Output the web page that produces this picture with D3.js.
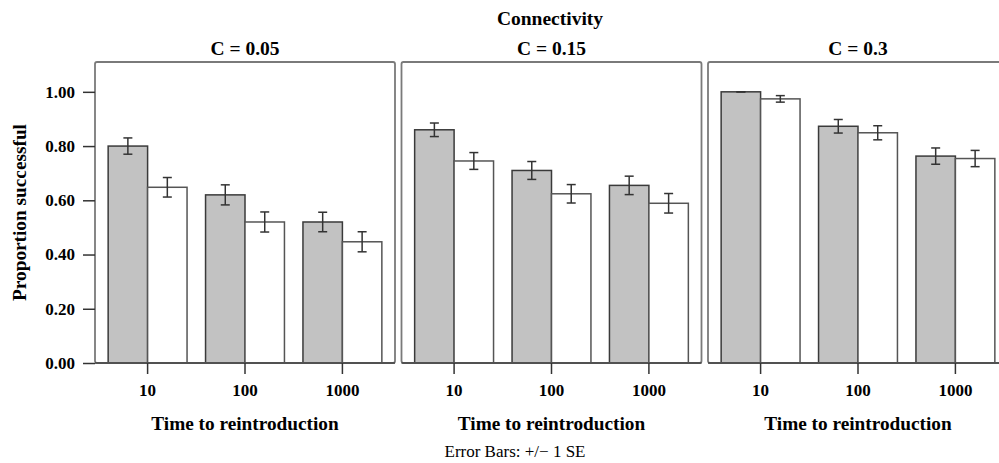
<!DOCTYPE html>
<html>
<head>
<meta charset="utf-8">
<script src="https://cdn.jsdelivr.net/npm/d3@7"></script>
<style>
	body { margin: 0; background: #fff; }
	svg { display: block; font-family: "Liberation Serif", "Times New Roman", serif; }
</style>
</head>
<body>
<svg width="999" height="463"></svg>
<script>
// Panels (connectivity) and categories (time to reintroduction)
const panels = ["C = 0.05", "C = 0.15", "C = 0.3"];
const times = ["10", "100", "1000"];

// Grey bars, one row per panel
const greyValues = [
	[0.8, 0.62, 0.52],
	[0.86, 0.71, 0.655],
	[1.0, 0.873, 0.763]
];
const greyErrors = [
	[0.03, 0.037, 0.036],
	[0.025, 0.033, 0.034],
	[0, 0.025, 0.03]
];

// White bars
const whiteValues = [
	[0.648, 0.52, 0.447],
	[0.745, 0.624, 0.589],
	[0.974, 0.849, 0.754]
];
const whiteErrors = [
	[0.036, 0.037, 0.037],
	[0.031, 0.034, 0.036],
	[0.012, 0.026, 0.03]
];

const yTicks = [0, 0.2, 0.4, 0.6, 0.8, 1.0];

function drawChart() {
	const svg = d3.select("svg");

	const top = 62,
		bottom = 363;

	const panelScale = d3
			.scaleBand()
			.domain(panels)
			.range([95, 1008])
			.paddingInner(0.0212),
		yScale = d3.scaleLinear().domain([0, 1.11]).range([bottom, top]);

	const pw = panelScale.bandwidth();

	const xScale = d3
			.scaleBand()
			.domain(times)
			.range([0, pw])
			.paddingInner(0.19)
			.paddingOuter(0.135),
		subScale = d3
			.scaleBand()
			.domain(["grey", "white"])
			.range([0, xScale.bandwidth()]);

	// Top title
	svg.append("text")
		.attr("x", 550)
		.attr("y", 25)
		.attr("text-anchor", "middle")
		.style("font-weight", "bold")
		.style("font-size", "19.5px")
		.text("Connectivity");

	panels.forEach((p, pi) => {
		const g = svg.append("g").attr("transform", `translate(${panelScale(p)}, 0)`);

		const rows = times.map((t, i) => [
			{ t: t, s: "grey", v: greyValues[pi][i], e: greyErrors[pi][i] },
			{ t: t, s: "white", v: whiteValues[pi][i], e: whiteErrors[pi][i] }
		]).flat();

		// panel title
		g.append("text")
			.attr("x", pw / 2)
			.attr("y", 55)
			.attr("text-anchor", "middle")
			.style("font-weight", "bold")
			.style("font-size", "19.5px")
			.text(p);

		// bars
		g.selectAll(".bar")
			.data(rows)
			.enter()
			.append("rect")
			.attr("class", "bar")
			.attr("x", (d) => xScale(d.t) + subScale(d.s))
			.attr("y", (d) => yScale(d.v))
			.attr("width", subScale.bandwidth())
			.attr("height", (d) => bottom - yScale(d.v))
			.attr("fill", (d) => (d.s == "grey" ? "#c2c2c2" : "#fff"))
			.attr("stroke", (d) => (d.s == "grey" ? "#3a3a3a" : "#555"))
			.attr("stroke-width", 1.5);

		// error bars
		const eb = g.selectAll(".err")
			.data(rows)
			.enter()
			.append("g")
			.attr("class", "err")
			.attr("stroke", "#333")
			.attr("stroke-width", 1.5);
		const cx = (d) => xScale(d.t) + subScale(d.s) + subScale.bandwidth() / 2;
		eb.append("line")
			.attr("x1", cx)
			.attr("x2", cx)
			.attr("y1", (d) => yScale(d.v + d.e))
			.attr("y2", (d) => yScale(d.v - d.e));
		eb.append("line")
			.attr("x1", (d) => cx(d) - 4.5)
			.attr("x2", (d) => cx(d) + 4.5)
			.attr("y1", (d) => yScale(d.v + d.e))
			.attr("y2", (d) => yScale(d.v + d.e));
		eb.append("line")
			.attr("x1", (d) => cx(d) - 4.5)
			.attr("x2", (d) => cx(d) + 4.5)
			.attr("y1", (d) => yScale(d.v - d.e))
			.attr("y2", (d) => yScale(d.v - d.e));

		// panel frame
		g.append("rect")
			.attr("x", 0)
			.attr("y", top)
			.attr("width", pw)
			.attr("height", bottom - top)
			.attr("rx", 2)
			.attr("fill", "none")
			.attr("stroke", "#7a7a7a")
			.attr("stroke-width", 1.8);
		g.append("line")
			.attr("x1", 0)
			.attr("x2", pw)
			.attr("y1", bottom)
			.attr("y2", bottom)
			.attr("stroke", "#444")
			.attr("stroke-width", 1.5);

		// x axis
		const xAxis = g.append("g")
			.attr("transform", `translate(0, ${bottom})`)
			.call(d3.axisBottom(xScale).tickSize(11).tickPadding(10));
		xAxis.select(".domain").remove();
		xAxis.selectAll("line").attr("stroke", "#333").attr("stroke-width", 1.5);
		xAxis.selectAll("text")
			.style("font-family", "Liberation Serif, serif")
			.style("font-weight", "bold")
			.style("font-size", "17px")
			.attr("fill", "#000");

		g.append("text")
			.attr("x", pw / 2)
			.attr("y", 430)
			.attr("text-anchor", "middle")
			.style("font-weight", "bold")
			.style("font-size", "19.3px")
			.text("Time to reintroduction");

		if (pi == 0) {
			const yAxis = g.append("g")
				.call(d3.axisLeft(yScale).tickValues(yTicks).tickFormat(d3.format(".2f")).tickSize(12).tickPadding(8));
			yAxis.select(".domain").remove();
			yAxis.selectAll("line").attr("stroke", "#333").attr("stroke-width", 1.5);
			yAxis.selectAll("text")
				.style("font-family", "Liberation Serif, serif")
				.style("font-weight", "bold")
				.style("font-size", "17px")
				.attr("fill", "#000");
		}
	});

	// y axis title
	svg.append("text")
		.attr("transform", `translate(26, ${(top + bottom) / 2}) rotate(-90)`)
		.attr("text-anchor", "middle")
		.style("font-weight", "bold")
		.style("font-size", "19.3px")
		.text("Proportion successful");

	svg.append("text")
		.attr("x", 515)
		.attr("y", 457)
		.attr("text-anchor", "middle")
		.style("font-size", "17px")
		.text("Error Bars: +/\u2212 1 SE");
}
drawChart();
</script>
</body>
</html>
